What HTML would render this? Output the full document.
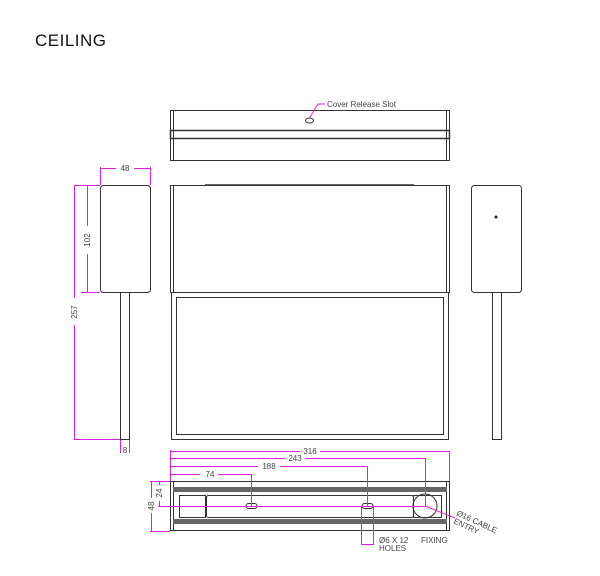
<!DOCTYPE html>
<html><head><meta charset="utf-8"><style>
html,body{margin:0;padding:0;background:#fff;width:600px;height:576px;overflow:hidden}
svg{display:block}
text{font-family:"Liberation Sans",sans-serif;fill:#444}
</style></head><body>
<svg width="600" height="576" viewBox="0 0 600 576" xmlns="http://www.w3.org/2000/svg">
<text x="35" y="46" style="font-size:17px;fill:#111;letter-spacing:0.5px">CEILING</text>
<g fill="none" stroke="#333" stroke-width="1">
<!-- top view -->
<rect x="170.5" y="110.5" width="279" height="50"/>
<line x1="173.5" y1="110" x2="173.5" y2="161"/><line x1="446.5" y1="110" x2="446.5" y2="161"/>
<rect x="170.5" y="130.5" width="279" height="8" stroke-width="1.5"/>
<ellipse cx="309.5" cy="120.5" rx="4" ry="2.5"/>
<!-- front -->
<rect x="170.5" y="185.5" width="279" height="107"/>
<line x1="173.5" y1="185" x2="173.5" y2="293"/><line x1="446.5" y1="185" x2="446.5" y2="293"/>
<line x1="205" y1="185" x2="414" y2="185" stroke-width="1.5"/>
<rect x="171.5" y="292.5" width="277" height="147"/>
<rect x="176.5" y="297.5" width="267" height="137"/>
<!-- left side -->
<rect x="100.5" y="185.5" width="50" height="107" rx="3"/>
<rect x="120.5" y="292.5" width="9" height="147"/>
<!-- right side -->
<rect x="471.5" y="185.5" width="50" height="107" rx="3"/>
<rect x="492.5" y="292.5" width="9" height="147"/>
<!-- bottom view -->
<rect x="170.5" y="481.5" width="279" height="49"/>
<line x1="173.5" y1="481" x2="173.5" y2="531"/><line x1="446.5" y1="481" x2="446.5" y2="531"/>
<rect x="173" y="487" width="274" height="5" fill="#666" stroke="none"/>
<rect x="173" y="519" width="274" height="5" fill="#666" stroke="none"/>
<rect x="179.5" y="495.5" width="26" height="22"/>
<rect x="206.5" y="495.5" width="207" height="22" rx="2"/>
<rect x="413.5" y="495.5" width="28" height="22"/>
<circle cx="425" cy="506" r="12"/>
<rect x="246" y="503.5" width="11" height="5" rx="2.5"/>
<rect x="362" y="503.5" width="11" height="5" rx="2.5"/>
</g>
<circle cx="496" cy="217" r="1.5" fill="#222"/>
<g stroke="#e020e0" stroke-width="1" fill="none">
<polyline points="309,119 318,104 325,104"/>
<!-- 48 top -->
<line x1="100.5" y1="167" x2="100.5" y2="185"/><line x1="150.5" y1="167" x2="150.5" y2="185"/>
<line x1="100" y1="168.5" x2="116" y2="168.5"/><line x1="134" y1="168.5" x2="151" y2="168.5"/>
<!-- 102 -->
<line x1="81" y1="185.5" x2="100" y2="185.5"/><line x1="81" y1="292.5" x2="100" y2="292.5"/>
<line x1="87.5" y1="185" x2="87.5" y2="226"/><line x1="87.5" y1="254" x2="87.5" y2="293"/>
<!-- 257 -->
<line x1="74" y1="185.5" x2="81" y2="185.5"/><line x1="74" y1="439.5" x2="120" y2="439.5"/>
<line x1="74.5" y1="185" x2="74.5" y2="298"/><line x1="74.5" y1="325" x2="74.5" y2="440"/>
<line x1="120.5" y1="440" x2="120.5" y2="453"/><line x1="129.5" y1="440" x2="129.5" y2="453"/>
<!-- bottom dims -->
<line x1="170.5" y1="450" x2="170.5" y2="481"/>
<line x1="170" y1="451.5" x2="300" y2="451.5"/><line x1="320" y1="451.5" x2="449.5" y2="451.5"/><line x1="449.5" y1="451" x2="449.5" y2="481"/>
<line x1="170" y1="458.5" x2="285" y2="458.5"/><line x1="305" y1="458.5" x2="425.5" y2="458.5"/><line x1="425.5" y1="458" x2="425.5" y2="506"/>
<line x1="170" y1="466.5" x2="258" y2="466.5"/><line x1="280" y1="466.5" x2="367.5" y2="466.5"/><line x1="367.5" y1="466" x2="367.5" y2="506"/>
<line x1="170" y1="474.5" x2="200" y2="474.5"/><line x1="218" y1="474.5" x2="251.5" y2="474.5"/><line x1="251.5" y1="474" x2="251.5" y2="506"/>
<line x1="150" y1="481.5" x2="170" y2="481.5"/><line x1="150" y1="531.5" x2="170" y2="531.5"/>
<line x1="151.5" y1="481" x2="151.5" y2="498"/><line x1="151.5" y1="513" x2="151.5" y2="532"/>
<line x1="159.5" y1="481" x2="159.5" y2="485"/><line x1="159.5" y1="501" x2="159.5" y2="506"/>
<line x1="158" y1="506.5" x2="426" y2="506.5"/>
<polyline points="361.5,506 361.5,544.5 373.5,544.5 373.5,506"/>
<line x1="425" y1="506" x2="455" y2="518"/>
</g>
<g style="font-size:8px">
<text x="327" y="107">Cover Release Slot</text>
<text x="125" y="171" text-anchor="middle">48</text>
<text x="90" y="240" text-anchor="middle" transform="rotate(-90 90 240)">102</text>
<text x="77" y="312" text-anchor="middle" transform="rotate(-90 77 312)">257</text>
<text x="125" y="453" text-anchor="middle">8</text>
<text x="310" y="454" text-anchor="middle">316</text>
<text x="295" y="461" text-anchor="middle">243</text>
<text x="269" y="469" text-anchor="middle">188</text>
<text x="210" y="477" text-anchor="middle">74</text>
<text x="154" y="506" text-anchor="middle" transform="rotate(-90 154 506)">48</text>
<text x="162" y="493" text-anchor="middle" transform="rotate(-90 162 493)">24</text>
<text x="379" y="543">Ø6 X 12</text>
<text x="379" y="551">HOLES</text>
<text x="421" y="543">FIXING</text>
<text x="456" y="515" transform="rotate(25 456 515)">Ø16 CABLE</text>
<text x="453" y="523" transform="rotate(25 453 523)">ENTRY</text>
</g>
</svg>
</body></html>
